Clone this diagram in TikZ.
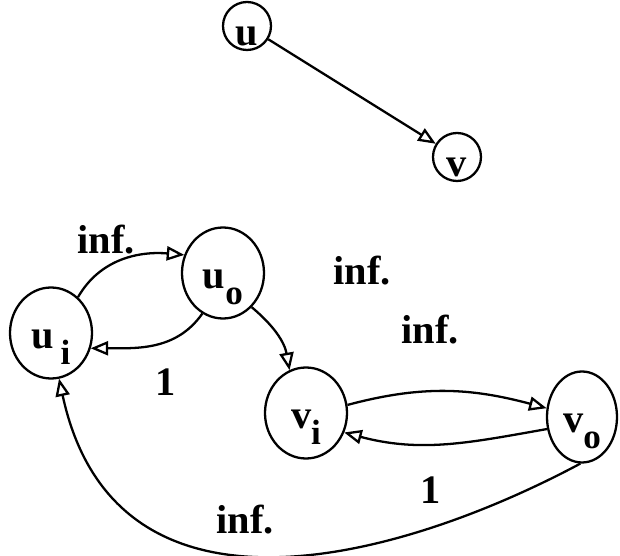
\documentclass[tikz,border=0pt]{standalone}
\usepackage{fontspec}
\setmainfont{Liberation Serif}
\usetikzlibrary{arrows,shapes,positioning}

% vertex names, lowered into the lower part of the circle
\newcommand{\vlone}[1]{\raisebox{-11pt}[0pt][0pt]{#1}}
\newcommand{\vname}[2]{\raisebox{-9pt}[0pt][0pt]{#1\raisebox{-9pt}{\fontsize{20}{20}\selectfont #2}}}

\begin{document}
\begin{tikzpicture}[
    vert/.style={ellipse, draw, line width=1.3pt, inner sep=0pt, minimum width=1.64cm, minimum height=1.82cm},
    small/.style={circle, draw, line width=1.3pt, inner sep=0pt, minimum size=0.96cm},
    arrow/.style={line width=1.3pt,->,>=open triangle 45},
    weight/.style={inner sep=0pt},
    font=\fontsize{23}{26}\bfseries\selectfont
  ]
    \useasboundingbox (0,0) rectangle (12.4,-11.12);

    % Original edge
    \node[small] (u) at (4.94,-0.52) {\vlone{u}};
    \node[small] (v) at (9.14,-3.14) {\vlone{v}};
    \draw[arrow] (u) -- (v);

    % Split vertices
    \node[vert] (ui) at (1.02,-6.66) {\vname{u\,}{i}};
    \node[vert] (uo) at (4.46,-5.46) {\vname{u}{o}};
    \node[vert] (vi) at (6.12,-8.26) {\vname{v}{i}};
    \node[vert, minimum width=1.4cm] (vo) at (11.64,-8.34) {\vname{v}{o}};

    % Edges of the split graph
    \draw[arrow] (ui.53) to[out=60,in=175] (uo.155);
    \draw[arrow] (uo.243) to[out=235,in=0] (ui.339);
    \draw[arrow] (uo.310) to[out=-40,in=100] (vi.111);
    \draw[arrow] (vi.11) to[out=15,in=165] (vo.166);
    \draw[arrow] (vo.199) to[out=190,in=-15] (vi.333);
    \draw[arrow] (vo.268) .. controls (8.0,-11.2) and (2.3,-12.8) .. (ui.280);

    % Capacities
    \node[weight] (cap1) at (2.12,-4.80) {inf.};
    \node[weight] (cap2) at (7.24,-5.42) {inf.};
    \node[weight] (cap3) at (8.60,-6.60) {inf.};
    \node[weight] (cap4) at (3.32,-7.64) {1};
    \node[weight] (cap5) at (8.62,-9.80) {1};
    \node[weight] (cap6) at (4.90,-10.40) {inf.};

\end{tikzpicture}
\end{document}
